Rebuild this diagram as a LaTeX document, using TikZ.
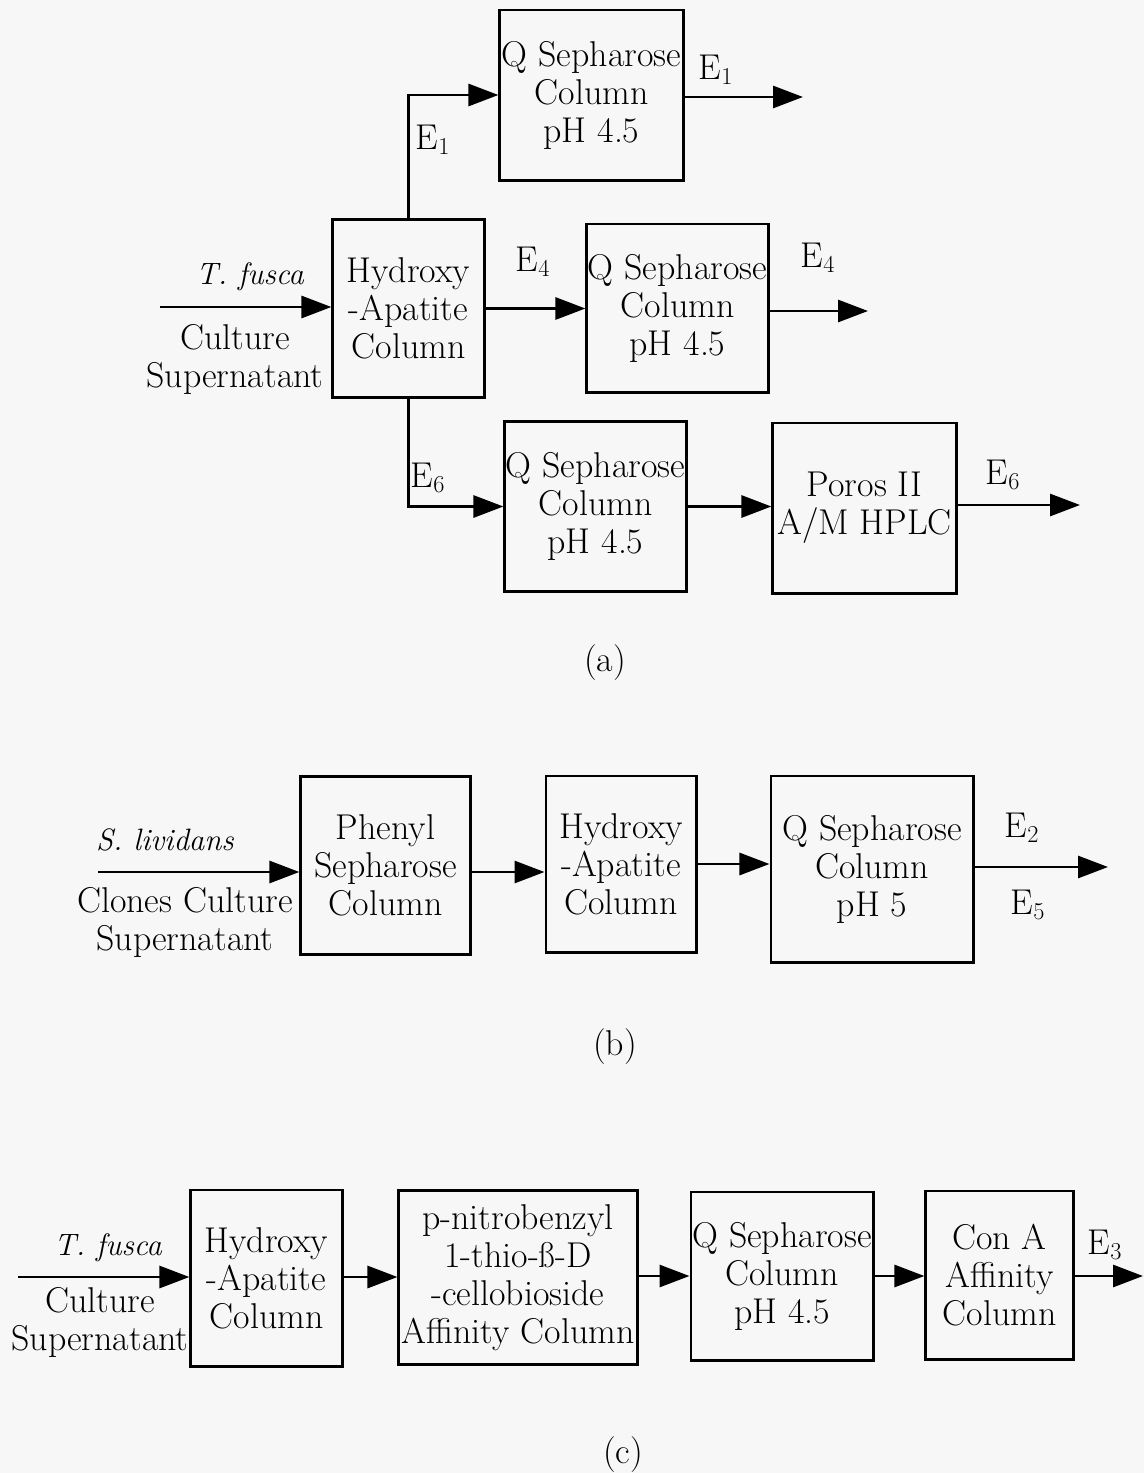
\documentclass[tikz,border=0pt]{standalone}
\usetikzlibrary{arrows.meta,calc}
\definecolor{FondoGris}{HTML}{F7F7F7}
\colorlet{Trazo}{black}

\tikzset{
  Columna/.style={draw=Trazo, line width=2.1pt, align=center, inner sep=0pt,
    font=\fontsize{25.5}{27}\selectfont},
  Texto/.style={align=center, inner sep=0pt, font=\fontsize{25.5}{27}\selectfont},
  Especie/.style={inner sep=0pt, font=\fontsize{22}{26}\selectfont\itshape},
  Flecha/.style={draw=Trazo, line width=2.1pt,
    -{Triangle[length=0.75cm, width=0.55cm]}},
}

\begin{document}
\begin{tikzpicture}[x=0.025cm, y=-0.025cm]

    % Fondo y margenes
    \fill[FondoGris] (0, 0) rectangle (1144, 1473);
    \useasboundingbox (0, 0) rectangle (1144, 1473);

    % ---------- (a) ----------
    \node[Columna, minimum width=4.58cm, minimum height=4.25cm] (qtop) at (591.5, 95) {Q Sepharose\\Column\\pH 4.5};
    \node[Columna, minimum width=3.78cm, minimum height=4.43cm] (hidA) at (408.5, 308.5) {Hydroxy\\-Apatite\\Column};
    \node[Columna, minimum width=4.53cm, minimum height=4.2cm] (qmid) at (677.5, 308) {Q Sepharose\\Column\\pH 4.5};
    \node[Columna, minimum width=4.53cm, minimum height=4.23cm] (qbot) at (595.5, 506.5) {Q Sepharose\\Column\\pH 4.5};
    \node[Columna, minimum width=4.58cm, minimum height=4.25cm] (poros) at (864.5, 508) {Poros II\\A/M HPLC};

    \coordinate (inA) at (160, 307);
    \coordinate (outA1) at (803, 97);
    \coordinate (outA4) at (868, 311);
    \coordinate (outA6) at (1080, 505);

    \draw[Flecha] (inA) -- (inA -| hidA.west);
    \draw[Flecha] (hidA.north) |- (qtop.west);
    \draw[Flecha] (qtop.east |- outA1) -- (outA1);
    \draw[Flecha] (hidA.east) -- (hidA.east -| qmid.west);
    \draw[Flecha] (qmid.east |- outA4) -- (outA4);
    \draw[Flecha] (hidA.south) |- (qbot.west);
    \draw[Flecha] (qbot.east) -- (qbot.east -| poros.west);
    \draw[Flecha] (poros.east |- outA6) -- (outA6);

    \node[Especie] (fuenteA) at (250, 277) {T. fusca};
    \node[Texto] (cultivoA) at (235, 359) {Culture\\Supernatant};
    \node[Texto] (e1a) at (433, 140) {E$_1$};
    \node[Texto] (e1b) at (716, 70) {E$_1$};
    \node[Texto] (e4a) at (533, 262) {E$_4$};
    \node[Texto] (e4b) at (818, 258) {E$_4$};
    \node[Texto] (e6a) at (428, 478) {E$_6$};
    \node[Texto] (e6b) at (1003, 475) {E$_6$};
    \node[Texto] (capA) at (605, 663) {(a)};

    % ---------- (b) ----------
    \node[Columna, minimum width=4.23cm, minimum height=4.43cm] (phenyl) at (385.5, 865.5) {Phenyl\\Sepharose\\Column};
    \node[Columna, minimum width=3.75cm, minimum height=4.4cm] (hidB) at (621, 864) {Hydroxy\\-Apatite\\Column};
    \node[Columna, minimum width=5.05cm, minimum height=4.65cm] (qB) at (872, 869) {Q Sepharose\\Column\\pH 5};

    \coordinate (inB) at (98, 872);
    \coordinate (outB) at (1108, 867);

    \draw[Flecha] (inB) -- (inB -| phenyl.west);
    \draw[Flecha] (phenyl.east |- inB) -- (hidB.west |- inB);
    \draw[Flecha] (hidB.east) -- (hidB.east -| qB.west);
    \draw[Flecha] (qB.east |- outB) -- (outB);

    \node[Especie] (fuenteB) at (165, 840) {S. lividans};
    \node[Texto] (cultivoB) at (185, 922) {Clones Culture\\Supernatant};
    \node[Texto] (e2) at (1022, 828) {E$_2$};
    \node[Texto] (e5) at (1028, 905) {E$_5$};
    \node[Texto] (capB) at (615, 1047) {(b)};

    % ---------- (c) ----------
    \node[Columna, minimum width=3.78cm, minimum height=4.4cm] (hidC) at (266.5, 1278) {Hydroxy\\-Apatite\\Column};
    \node[Columna, minimum width=5.95cm, minimum height=4.33cm] (pnb) at (518, 1277.5) {p-nitrobenzyl\\1-thio-ß-D\\-cellobioside\\Affinity Column};
    \node[Columna, minimum width=4.55cm, minimum height=4.2cm] (qC) at (782, 1276) {Q Sepharose\\Column\\pH 4.5};
    \node[Columna, minimum width=3.68cm, minimum height=4.2cm] (conA) at (999.5, 1275) {Con A\\Affinity\\Column};

    \coordinate (inC) at (18, 1277);
    \coordinate (outC) at (1143, 1276);

    \draw[Flecha] (inC) -- (inC -| hidC.west);
    \draw[Flecha] (hidC.east |- inC) -- (pnb.west |- inC);
    \draw[Flecha] (pnb.east |- qC.west) -- (qC.west);
    \draw[Flecha] (qC.east) -- (qC.east -| conA.west);
    \draw[Flecha] (conA.east |- outC) -- (outC);

    \node[Especie] (fuenteC) at (108, 1248) {T. fusca};
    \node[Texto] (cultivoC) at (100, 1322) {Culture\\Supernatant};
    \node[Texto] (e3) at (1105, 1245) {E$_3$};
    \node[Texto] (capC) at (623, 1455) {(c)};

\end{tikzpicture}
\end{document}
